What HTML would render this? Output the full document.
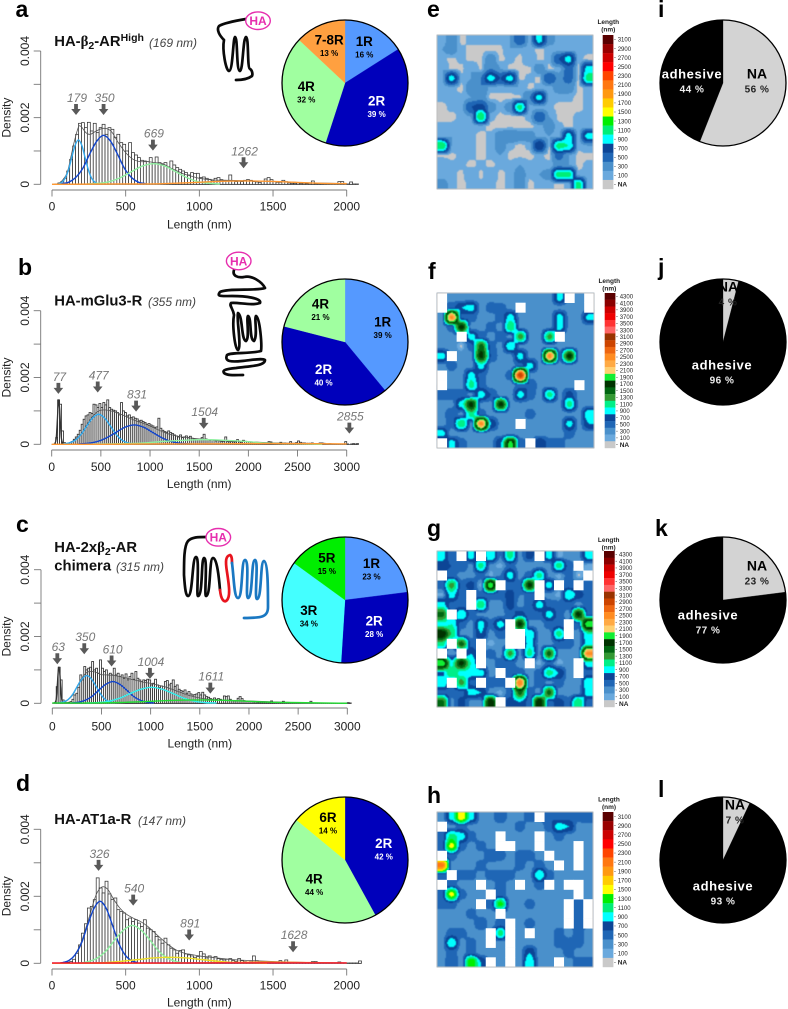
<!DOCTYPE html>
<html lang="en">
<head>
<meta charset="utf-8">
<title>Receptor length distributions</title>
<style>
html,body{margin:0;padding:0;background:#fff;}
svg{display:block;font-family:"Liberation Sans",sans-serif;}
.heat-fill{filter:blur(0.5px);}
.t{font-weight:bold;font-size:14.8px;fill:#111;}
.s{font-style:italic;font-size:12px;fill:#444;}
.l{font-weight:bold;font-size:23px;fill:#000;}
</style>
</head>
<body>
<svg id="fig" width="788" height="1009" viewBox="0 0 788 1009" xmlns="http://www.w3.org/2000/svg">
<rect width="788" height="1009" fill="#fff"/>
<text class="l" x="15.5" y="17">a</text>
<text class="l" x="18" y="275">b</text>
<text class="l" x="16" y="532">c</text>
<text class="l" x="16" y="791">d</text>
<text class="l" x="427" y="17">e</text>
<text class="l" x="428" y="279">f</text>
<text class="l" x="427" y="536">g</text>
<text class="l" x="427" y="803">h</text>
<text class="l" x="658" y="17">i</text>
<text class="l" x="658" y="275">j</text>
<text class="l" x="655" y="536">k</text>
<text class="l" x="658" y="797">l</text>

<text class="t" x="54.3" y="46">HA-<tspan font-family="'Liberation Serif',serif">β</tspan><tspan dy="3" font-size="10.5">2</tspan><tspan dy="-3">-AR</tspan><tspan dy="-5" font-size="10.5">High</tspan></text>
<text class="s" x="149" y="47">(169 nm)</text>
<text class="t" x="54.3" y="305.7">HA-mGlu3-R</text>
<text class="s" x="148" y="306">(355 nm)</text>
<text class="t" x="54.3" y="552">HA-2x<tspan font-family="'Liberation Serif',serif">β</tspan><tspan dy="3" font-size="10.5">2</tspan><tspan dy="-3">-AR</tspan></text>
<text class="t" x="54.3" y="570.7">chimera</text>
<text class="s" x="116" y="571">(315 nm)</text>
<text class="t" x="54.3" y="824">HA-AT1a-R</text>
<text class="s" x="138" y="825">(147 nm)</text>

<g fill="none" stroke="#0a0a0a" stroke-width="2.7" stroke-linecap="round" stroke-linejoin="round">
<path d="M246,19 C234,21 224,23 219,26 C216,30 220,36 224,40 C222,50 226,71 229,71 C233,71 233,37 235,37 C238,37 236,71 240,71 C243,71 243,37 246,37 C249,37 247,68 250,69 C252,70 253,74 252,76 C248,79 242,80 236,80"/>
<path d="M234,270 C232,276 238,278 244,277 C252,275 262,282 265,288 C258,291 226,288 220,292 C216,297 222,296 232,296 C245,296 262,298 260,303 C252,306 238,302 231,303 C229,306 233,308 234,315 C232,325 235,350 238,350 C242,348 236,316 238,313 C243,316 241,340 246,341 C250,338 246,318 248,316 C252,318 249,340 254,341 C258,336 254,318 256,316 C260,318 262,345 261,351 C250,354 232,352 227,355 C224,362 232,362 242,361 C252,360 262,358 265,360 C265,366 250,366 236,368 C226,369 222,370 224,373 C228,376 236,375 243,375"/>
<path d="M206,537 C198,537 192,537 188,541 C184,546 184,560 184,575 C185,590 186,596 188,596 C193,596 192,557 196,557 C200,557 196,596 198,596 C203,596 201,558 204,558 C208,558 204,596 206,596 C211,596 209,558 213,558 C217,558 219,578 220,590"/>
</g>
<path d="M220,590 C221,600 224,602 226,601 C231,598 229,585 227,572 C225,560 226,556 230,555 C232,556 232,560 232,563" fill="none" stroke="#e8141e" stroke-width="2.7" stroke-linecap="round"/>
<path d="M232,563 C234,578 234,598 238,598 C243,598 241,560 245,560 C250,560 245,598 248,598 C253,598 251,560 255,560 C259,560 254,599 257,599 C262,599 260,561 264,561 C268,562 268,590 268,607 C268,617 262,618 244,618" fill="none" stroke="#1a78c2" stroke-width="2.7" stroke-linecap="round"/>

<g><ellipse cx="258" cy="20.7" rx="12.3" ry="8.8" fill="#fff" stroke="#e62eae" stroke-width="1.4"/><text x="258" y="25" text-anchor="middle" font-weight="bold" font-size="12" fill="#e62eae">HA</text></g>
<g><ellipse cx="238.7" cy="261" rx="12.3" ry="8.8" fill="#fff" stroke="#e62eae" stroke-width="1.4"/><text x="238.7" y="265.3" text-anchor="middle" font-weight="bold" font-size="12" fill="#e62eae">HA</text></g>
<g><ellipse cx="218.3" cy="537.3" rx="12.3" ry="8.8" fill="#fff" stroke="#e62eae" stroke-width="1.4"/><text x="218.3" y="541.6" text-anchor="middle" font-weight="bold" font-size="12" fill="#e62eae">HA</text></g>
</svg>

<script>
/* ---------- histogram data: density x 1e-5 per 20 nm bin ---------- */
const binWidthNm = 20;
const binsA = [0,1,4,8,18,40,75,115,150,183,185,170,186,160,183,155,170,180,150,170,165,140,150,125,120,100,125,95,88,80,72,70,68,80,62,82,65,60,65,52,70,58,50,45,40,35,28,35,32,33,20,22,18,15,12,18,20,14,12,10,28,10,8,9,8,12,14,12,8,7,6,10,16,20,14,8,6,6,12,8,4,3,3,4,2,3,2,3,10,2,2,1,1,1,1,1,1,8,8,1,1,7,1,1];
const binsB = [0,1,20,133,120,40,5,2,3,5,8,15,22,30,42,60,75,85,88,95,92,120,118,110,122,110,125,118,133,110,105,102,100,95,88,125,100,95,85,88,80,82,78,76,70,72,68,65,60,62,58,55,50,52,78,48,42,38,36,40,35,32,28,25,22,28,20,22,25,20,24,18,16,14,15,16,20,30,16,14,12,13,12,10,11,10,8,9,22,8,7,8,7,7,14,7,6,12,9,8,7,6,6,5,4,5,5,4,4,4,8,7,3,3,3,2,6,2,4,2,2,8,2,3,5,10,6,4,4,3,3,3,4,2,1,1,4,4,3,1,1,2,1,1,1,1,1,1,1,8,1,0,1,2,1,2];
const binsC = [0,2,50,108,70,10,2,2,3,5,12,25,30,48,85,70,110,100,105,108,125,100,105,90,130,105,95,100,85,90,85,105,85,90,80,85,75,88,70,80,90,72,95,75,70,65,70,68,72,70,55,60,72,55,48,52,42,65,68,55,60,70,50,55,42,38,36,40,30,35,28,25,26,28,32,25,33,25,20,18,14,12,16,12,14,12,10,22,20,22,12,8,7,7,15,20,14,8,7,6,5,5,4,4,3,3,3,3,3,3,2,7,2,2,2,2,2,6,2,2,2,2,2,2,1,1,1,1,1,1,1,6,1,1,1,1,1,1,1,1,1,1,1,1,1,1,1,1,1,1,2,1];
const binsD = [0,0,1,2,3,3,5,12,30,55,90,118,165,170,190,255,225,210,245,207,190,195,160,155,150,130,135,125,130,120,110,130,105,100,95,80,70,60,75,55,45,40,30,38,40,28,25,22,18,20,35,28,16,22,18,20,14,12,10,12,14,8,6,14,8,5,4,5,22,8,4,2,2,2,2,2,2,8,4,10,2,2,2,2,2,2,2,2,5,5,1,1,1,1,1,1,1,4,1,1,1,1,1,1,7];

/* ---------- fitted curves: x in nm, y in density x 1e-5 ---------- */
const a179X = [44,67,89,112,134,157,179,202,224,247,269,292,314];
const a179Y = [1,6,18,43,81,117,133,117,81,43,18,6,1];
const a350X = [65,112,160,208,255,303,350,398,445,493,540,588,635];
const a350Y = [2,6,20,47,90,129,147,129,90,47,20,6,2];
const a669X = [240,315,390,465,540,615,690,765,840,915,990,1065,1140];
const a669Y = [1,3,8,20,38,55,62,55,38,20,8,3,1];
const a1262X = [0,475,650,825,1000,1150,1300,1475,1650,1825,2000];
const a1262Y = [0,1,1,3,6,9,10,9,6,3,2];
const aTotalX = [0,50,100,130,150,180,200,230,260,300,350,400,450,500,550,600,650,700,750,800,850,900,950,1000,1100,1200,1300,1400,1500,1600,1700,1800,1900,2000];
const aTotalY = [0,4,32,86,126,172,172,155,150,160,168,160,125,95,75,68,68,65,62,50,40,30,24,18,13,12,11,10,9,7,5,4,3,2];

const b77X = [30,45,55,65,72,80,90,100,115];
const b77Y = [1,15,60,115,133,110,55,15,1];
const b477X = [117,177,237,297,357,417,477,537,597,657,717,777,837];
const b477Y = [1,4,12,29,55,79,90,79,55,29,12,4,1];
const b831X = [270,365,460,555,650,745,840,935,1030,1125,1220,1315,1410];
const b831Y = [1,3,8,19,35,51,58,51,35,19,8,3,1];
const b1504X = [350,550,750,950,1150,1350,1550,1750,1950,2150,2350,2550,2750];
const b1504Y = [0,1,2,4,9,12,14,12,9,4,2,1,0];
const b2855X = [0,500,1000,1500,2000,2500,3000];
const b2855Y = [0,0,1,1,2,2,1];
const bTotalX = [0,30,45,55,65,72,80,90,100,120,180,240,300,360,420,480,540,600,660,720,780,840,900,960,1020,1080,1140,1200,1300,1400,1500,1600,1800,2000,2200,2500,3000];
const bTotalY = [0,1,15,60,115,133,110,55,17,2,5,15,32,60,85,100,103,100,95,88,80,72,66,60,52,44,36,30,23,19,16,14,10,8,5,3,1];

const c63X = [25,40,50,60,68,76,86,96,110];
const c63Y = [1,12,50,95,108,90,45,12,1];
const c350X = [65,112,160,208,255,303,350,398,445,493,540,588,635];
const c350Y = [1,4,11,27,51,73,83,73,51,27,11,4,1];
const c610X = [195,265,335,405,475,545,615,685,755,825,895,965,1035];
const c610Y = [1,3,9,21,40,57,65,57,40,21,9,3,1];
const c1004X = [350,460,570,680,790,900,1010,1120,1230,1340,1450,1560,1670];
const c1004Y = [1,2,6,15,29,42,48,42,29,15,6,2,1];
const c1611X = [0,500,750,1000,1250,1500,1750,2000,2250,2500,3000];
const c1611Y = [1,1,3,6,9,10,9,6,3,2,0];
const cTotalX = [0,25,40,50,60,68,76,86,96,110,160,210,260,300,350,400,450,500,550,600,650,700,750,800,850,900,950,1000,1050,1100,1150,1200,1300,1400,1500,1600,1700,1800,2000,2200,2500,3000];
const cTotalY = [0,1,12,50,95,108,90,45,13,2,10,25,55,75,92,96,92,86,85,84,82,79,76,72,69,65,62,60,56,53,49,44,33,23,16,12,10,9,7,5,2,0];

const d326X = [71,114,156,199,241,284,326,369,411,454,496,539,581];
const d326Y = [2,8,25,59,113,163,185,163,113,59,25,8,2];
const d540X = [185,245,305,365,425,485,545,605,665,725,785,845,905];
const d540Y = [1,5,15,36,69,99,113,99,69,36,15,5,1];
const d891X = [140,250,360,470,580,690,800,910,1020,1130,1240,1350,1460];
const d891Y = [0,1,2,6,11,16,18,16,11,6,2,1,0];
const d1628X = [0,600,900,1150,1450,1750,2000];
const d1628Y = [0,0,1,2,4,2,1];
const dRedX = [0,1000,2000];
const dRedY = [1,1,1];
const dTotalX = [0,50,100,150,200,250,300,340,380,420,460,500,550,600,650,700,750,800,850,900,950,1000,1100,1200,1300,1400,1600,1800,2000];
const dTotalY = [0,1,6,22,65,135,205,228,220,190,165,148,135,125,110,90,70,52,38,30,26,22,17,12,9,7,4,2,1];

/* ---------- peak annotations: printed label, arrow nm, arrow tip density x 1e-5 ---------- */
const peakLabelsA = [179,350,669,1262];
const peakNmA = [163,350,685,1300];
const peakTipA = [208,208,101,48];
const peakLabelsB = [77,477,831,1504,2855];
const peakNmB = [68,468,858,1546,3027];
const peakTipB = [151,155,98,46,32];
const peakLabelsC = [63,350,610,1004,1611];
const peakNmC = [51,325,603,993,1607];
const peakTipC = [117,147,110,73,29];
const peakLabelsD = [326,540,891,1628];
const peakNmD = [316,551,931,1636];
const peakTipD = [276,172,68,33];

/* ---------- axes ---------- */
const xTicks2000 = [0,500,1000,1500,2000];
const xTicks3000 = [0,500,1000,1500,2000,2500,3000];
const yTicksMinor = [0,0.001,0.002,0.003,0.004];
const yTickLabels = ['0','0.002','0.004'];

/* ---------- pies ---------- */
const pieALabels = ['1R','2R','4R','7-8R'];
const pieAValues = [16,39,32,13];
const pieBLabels = ['1R','2R','4R'];
const pieBValues = [39,40,21];
const pieCLabels = ['1R','2R','3R','5R'];
const pieCValues = [23,28,34,15];
const pieDLabels = ['2R','4R','6R'];
const pieDValues = [42,44,14];
const adhesionLabels = ['NA','adhesive'];
const adhesionI = [56,44];
const adhesionJ = [4,96];
const adhesionK = [23,77];
const adhesionL = [7,93];

/* ---------- force maps: length in units of 100 nm, 0 = NA, W = empty pixel ---------- */
const W = -1;
const heatE = [
[1,3,0,1,1,1,1,2,6,1,9,3,1,1,1,1],
[2,3,1,0,0,0,0,2,1,1,0,1,1,1,1,1],
[1,0,1,0,0,3,0,1,0,2,0,1,6,9,1,0],
[2,0,0,2,0,4,2,0,0,0,3,0,1,5,0,9],
[1,9,1,2,4,9,6,9,0,1,0,6,3,5,0,11],
[1,1,0,3,4,1,1,1,2,0,1,1,3,3,0,1],
[1,1,1,2,3,0,0,0,0,4,9,1,1,1,0,1],
[0,1,1,6,7,3,1,3,11,1,1,1,0,0,0,1],
[0,0,1,2,12,1,0,0,0,1,6,2,0,0,1,1],
[1,1,2,1,1,0,0,0,0,0,1,3,1,0,1,1],
[1,2,2,1,0,1,3,4,3,3,1,2,1,9,1,9],
[12,2,1,1,0,1,3,1,0,1,8,0,11,10,1,2],
[0,0,1,1,0,1,2,0,0,0,1,0,5,2,0,0],
[2,1,1,0,1,0,1,1,2,1,1,1,3,2,0,1],
[1,1,0,2,0,2,0,1,3,1,2,3,11,11,1,1],
[3,1,0,1,1,1,0,1,3,0,1,1,0,1,11,1]];
const heatF = [
[W,3,2,2,3,3,2,3,2,3,3,3,9,W,3,W],
[W,5,8,9,3,5,5,3,W,3,3,3,3,3,3,W],
[3,25,5,5,3,3,5,9,3,3,3,3,9,3,3,9],
[3,5,17,3,3,5,3,12,3,3,3,3,9,3,3,3],
[3,3,W,9,5,3,5,3,13,3,3,13,W,3,3,3],
[3,3,0,5,15,5,3,10,3,3,3,3,3,3,3,3],
[9,W,3,3,17,6,3,3,9,3,3,25,5,17,3,3],
[3,5,3,3,9,3,3,3,5,9,3,3,3,3,3,3],
[W,3,3,9,5,3,3,5,30,3,3,3,3,3,3,3],
[W,3,3,11,5,3,3,3,5,6,3,3,3,3,W,3],
[5,5,5,3,9,6,3,3,9,5,3,11,3,7,3,3],
[3,3,9,17,3,3,17,3,3,3,3,3,3,11,3,3],
[3,6,3,11,5,3,3,3,3,5,3,3,3,3,3,10],
[3,5,12,3,25,8,3,3,W,3,3,3,3,9,3,8],
[9,2,3,3,3,3,3,3,3,3,3,3,3,5,3,3],
[W,9,5,3,3,3,8,19,5,W,8,5,5,3,3,3]];
const heatG = [
[9,4,W,9,W,10,4,11,3,7,W,9,1,3,3,9],
[7,6,6,3,11,3,1,5,3,2,3,2,11,5,W,1],
[W,5,3,3,5,1,4,9,3,5,11,3,1,5,0,W],
[5,13,5,7,1,20,W,5,5,17,W,9,W,5,W,5],
[1,9,5,W,5,5,5,7,4,4,W,3,1,10,7,5],
[9,5,5,W,12,3,3,7,3,5,9,5,5,5,3,5],
[15,W,10,5,3,3,3,5,7,5,5,9,5,3,17,5],
[9,10,5,3,9,5,9,W,17,3,3,5,5,W,5,20],
[18,12,3,3,8,3,5,W,W,10,3,3,11,W,3,10],
[11,W,15,5,W,1,3,W,W,9,3,3,5,5,3,9],
[W,3,W,8,W,5,3,13,3,11,3,15,3,3,3,25],
[20,9,17,10,W,3,5,5,3,W,1,5,1,3,W,9],
[7,12,9,9,9,3,W,5,5,3,5,11,8,3,W,5],
[10,W,13,5,W,5,5,W,26,3,5,3,5,3,2,10],
[5,5,5,9,8,3,1,5,15,5,3,15,3,3,3,9],
[15,3,7,3,3,18,W,7,8,5,18,5,7,5,12,5]];
const heatH = [
[2,9,16,9,3,3,6,3,3,5,W,6,5,5,5,6],
[W,3,5,3,3,3,3,3,5,3,3,5,9,8,3,3],
[5,11,9,5,3,3,W,3,3,3,W,3,5,3,3,3],
[5,15,5,3,5,3,W,W,3,3,W,3,3,3,W,3],
[W,5,3,3,3,6,5,3,5,5,3,W,3,3,W,3],
[21,3,3,3,5,3,3,3,5,3,5,3,W,3,W,3],
[5,W,5,5,3,5,5,5,3,3,10,5,3,3,3,3],
[W,5,3,3,W,3,5,3,W,3,5,W,3,W,W,3],
[5,15,5,3,3,W,5,3,3,3,3,3,3,3,W,3],
[5,5,3,3,W,5,13,3,3,5,3,3,3,W,5,W],
[3,3,3,5,3,3,W,3,3,3,3,3,3,W,5,W],
[3,3,3,3,6,3,5,W,3,5,3,3,3,W,5,W],
[3,5,5,3,3,W,11,W,3,W,3,3,5,3,5,3],
[3,10,3,5,3,W,3,W,3,3,3,3,5,5,5,3],
[3,5,3,5,3,3,3,W,3,8,3,3,3,5,3,3],
[3,6,3,14,8,W,3,W,3,10,3,3,W,3,5,5]];
const scaleLabelsLow = [3100,2900,2700,2500,2300,2100,1900,1700,1500,1300,1100,900,700,500,300,100,'NA'];
const scaleLabelsHigh = [4300,4100,3900,3700,3500,3300,3100,2900,2700,2500,2300,2100,1900,1700,1500,1300,1100,900,700,500,300,100,'NA'];

/* ---------- colour styles ---------- */
const NA_COLOR = '#c9c9c9';
const palLow = ['#6aa9dd','#4a90cb','#1f66b5','#0c4596','#00ffff','#00ee77','#00ee00','#ffff00','#ffcc00','#ff9911','#ff7711','#ff4400','#ff0000','#cc0000','#990000','#5a0000'];
const palHigh = ['#6aa9dd','#4a90cb','#1f66b5','#0c4596','#00ffff','#00ee88','#339933','#006611','#003300','#11ee33','#ffd070','#ffaa44','#ff8c22','#ee6611','#cc4400','#993300','#ff6666','#ff3333','#ee0000','#cc0000','#8b0000','#5a0000'];
const sliceColors = {'1R':'#5599ff','2R':'#0000bb','3R':'#44ffff','4R':'#a0ffa0','5R':'#00ee00','6R':'#ffff00','7-8R':'#ffa040','NA':'#d3d3d3','adhesive':'#000000'};

/* ---------- helpers ---------- */
const NS = 'http://www.w3.org/2000/svg';
const fig = document.getElementById('fig');
function mk(tag, attrs, parent){
  const el = document.createElementNS(NS, tag);
  for (const k in attrs) el.setAttribute(k, attrs[k]);
  (parent || fig).appendChild(el);
  return el;
}
function addText(parent, name, str, x, y, attrs){
  const el = mk('text', Object.assign({x:x, y:y}, attrs), parent);
  el.textContent = str;
  
  
  return el;
}
function smoothPath(pts){
  let d = 'M' + pts[0][0].toFixed(2) + ',' + pts[0][1].toFixed(2);
  for (let i = 0; i < pts.length - 1; i++){
    const p0 = pts[Math.max(i-1,0)], p1 = pts[i], p2 = pts[i+1], p3 = pts[Math.min(i+2,pts.length-1)];
    const c1x = p1[0] + (p2[0]-p0[0])/6, c1y = p1[1] + (p2[1]-p0[1])/6;
    const c2x = p2[0] - (p3[0]-p1[0])/6, c2y = p2[1] - (p3[1]-p1[1])/6;
    d += 'C' + c1x.toFixed(2) + ',' + c1y.toFixed(2) + ' ' + c2x.toFixed(2) + ',' + c2y.toFixed(2) + ' ' + p2[0].toFixed(2) + ',' + p2[1].toFixed(2);
  }
  return d;
}

/* ---------- histogram panel ---------- */
function drawPanel(id, g, bins, curves, peakLabels, peakNm, peakTip, xTicks){
  const group = mk('g', {});
  
  
  const X = nm => g.x0 + nm * (g.xEnd - g.x0) / g.xMax;
  const Y = v => g.y0 - v * (g.y0 - g.y4) / 400;
  const barW = X(binWidthNm) - X(0);

  bins.forEach((v, i) => {
    if (v <= 0) return;
    const r = mk('rect', {x:X(i*binWidthNm), y:Y(v), width:barW, height:Y(0)-Y(v), fill:'#fff', stroke:'#333', 'stroke-width':g.barStroke}, group);
    
    
  });
  const base = mk('line', {x1:X(0), x2:X(bins.length*binWidthNm), y1:Y(0), y2:Y(0), stroke:'#222', 'stroke-width':0.7}, group);
  
  

  curves.forEach(c => {
    const pts = c.xs.map((nm, i) => [X(nm), Y(c.ys[i])]);
    const p = mk('path', {d:smoothPath(pts), fill:'none', stroke:c.color, 'stroke-width':c.w}, group);
    
    
  });

  const yAx = mk('line', {x1:g.yAxisX, x2:g.yAxisX, y1:Y(0), y2:Y(400), stroke:'#777', 'stroke-width':0.9}, group);
  
  
  yTicksMinor.forEach(t => {
    const ty = Y(t * 100000);
    const l = mk('line', {x1:g.yAxisX-7, x2:g.yAxisX, y1:ty, y2:ty, stroke:'#777', 'stroke-width':0.9}, group);
    
    
  });
  yTickLabels.forEach(s => {
    const ty = Y(parseFloat(s) * 100000);
    addText(group, 'y-tick-label', s, 0, 0, {transform:'translate(' + 29 + ',' + ty + ') rotate(-90)', 'text-anchor':'middle', 'font-size':12, fill:'#222'});
  });
  addText(group, 'y-axis-title', 'Density', 0, 0, {transform:'translate(' + 10.5 + ',' + Y(200) + ') rotate(-90)', 'text-anchor':'middle', 'font-size':12, fill:'#222'});

  const xAx = mk('line', {x1:X(0), x2:X(g.xMax), y1:g.axisY, y2:g.axisY, stroke:'#777', 'stroke-width':0.9}, group);
  
  
  xTicks.forEach(t => {
    const l = mk('line', {x1:X(t), x2:X(t), y1:g.axisY, y2:g.axisY+6.5, stroke:'#777', 'stroke-width':0.9}, group);
    
    
    addText(group, 'x-tick-label', String(t), X(t), g.labelY, {'text-anchor':'middle', 'font-size':12, fill:'#222'});
  });
  addText(group, 'x-axis-title', 'Length (nm)', X(g.xMax*0.5), g.titleY, {'text-anchor':'middle', 'font-size':12, fill:'#222'});

  peakLabels.forEach((lab, i) => {
    const tx = X(peakNm[i]), ty = Y(peakTip[i]);
    const a = mk('polygon', {points:[[tx,ty],[tx-4.8,ty-6],[tx-1.9,ty-6],[tx-1.9,ty-11],[tx+1.9,ty-11],[tx+1.9,ty-6],[tx+4.8,ty-6]].map(p=>p.join(',')).join(' '), fill:'#595959'}, group);
    
    
    addText(group, 'peak-label', String(lab), tx + 1, ty - 13, {'text-anchor':'middle', 'font-size':12, 'font-style':'italic', fill:'#777'});
  });
}

/* ---------- pies ---------- */
function drawPie(name, cx, cy, r, labels, values, anchors){
  const group = mk('g', {});
  
  
  const total = values.reduce((s, v) => s + v, 0);
  let cum = 0;
  labels.forEach((lab, i) => {
    const a0 = cum / total * 2 * Math.PI;
    cum += values[i];
    const a1 = cum / total * 2 * Math.PI;
    const large = (a1 - a0) > Math.PI ? 1 : 0;
    const d = 'M' + cx + ',' + cy + 'L' + (cx + r*Math.sin(a0)) + ',' + (cy - r*Math.cos(a0)) +
      'A' + r + ',' + r + ' 0 ' + large + ' 1 ' + (cx + r*Math.sin(a1)) + ',' + (cy - r*Math.cos(a1)) + 'Z';
    const s = mk('path', {d:d, fill:sliceColors[lab], stroke:sliceColors[lab], 'stroke-width':0.3}, group);
    
    
  });
  const rim = mk('circle', {cx:cx, cy:cy, r:r, fill:'none', stroke:'#000', 'stroke-width':1.3}, group);
  
  
  cum = 0;
  labels.forEach((lab, i) => {
    const mid = (cum + values[i]/2) / total * 2 * Math.PI;
    cum += values[i];
    const dark = (lab === '2R' || lab === 'adhesive');
    const fill = dark ? '#fff' : '#000';
    if (anchors){
      const px = anchors[i][0], py = anchors[i][1];
      addText(group, 'pie-label', lab, px, py - 2.5, {'text-anchor':'middle', 'font-size':lab==='NA'?14:13, 'font-weight':'bold', 'letter-spacing':lab==='NA'?0:0.6, fill:fill});
      addText(group, 'pie-percent', values[i] + ' %', px, py + 11.5, {'text-anchor':'middle', 'font-size':10, 'font-weight':'bold', 'letter-spacing':0.5, fill:dark?'#eee':'#222'});
    } else {
      const px = cx + 40*Math.sin(mid), py = cy - 40*Math.cos(mid);
      addText(group, 'pie-label', lab, px, py - 2, {'text-anchor':'middle', 'font-size':13.4, 'font-weight':'bold', fill:fill});
      addText(group, 'pie-percent', values[i] + ' %', px, py + 9.5, {'text-anchor':'middle', 'font-size':8, 'font-weight':'bold', fill:fill});
    }
  });
}

/* ---------- force map ---------- */
function drawHeat(name, matrix, x0, y0, w, h, pal, scaleLabels, barX, titleX, titleY1, titleY2){
  const group = mk('g', {});
  
  
  const n = matrix.length, cw = w/n, ch = h/n;
  /* squared values; empty cells take the mean of their valid neighbours */
  const sq = matrix.map((row, r) => row.map((val, c) => {
    if (val >= 0) return val*val;
    let s = 0, k = 0;
    for (let a = Math.max(0,r-1); a <= Math.min(n-1,r+1); a++) for (let b = Math.max(0,c-1); b <= Math.min(n-1,c+1); b++){
      const m = matrix[a][b];
      if (m >= 0 && m < 8){ s += m; k++; }
    }
    const mean = k ? s/k : 3;
    return mean*mean;
  }));
  const ease = t => t*t*(3-2*t);
  const fillGroup = mk('g', {'class':'heat-fill'}, group);
  
  
  const bg = mk('rect', {x:x0, y:y0, width:w, height:h, fill:NA_COLOR}, fillGroup);
  
  
  const spans = pal.map(() => []);
  for (let py = 0; py < h; py++){
    const v = Math.max(0, Math.min(n-1.001, (py + 0.5)/ch - 0.5));
    const r0 = Math.floor(v), tv = ease(v - r0);
    let run = -2, start = 0;
    for (let px = 0; px <= w; px++){
      let lev = -2;
      if (px < w){
        const u = Math.max(0, Math.min(n-1.001, (px + 0.5)/cw - 0.5));
        const c0 = Math.floor(u), tu = ease(u - c0);
        const top = sq[r0][c0]*(1-tu) + sq[r0][c0+1]*tu;
        const bot = sq[r0+1][c0]*(1-tu) + sq[r0+1][c0+1]*tu;
        const val = Math.sqrt(top*(1-tv) + bot*tv);
        lev = val < 0.7 ? -1 : Math.min(Math.floor(val/2), pal.length-1);
      }
      if (lev !== run){
        if (run >= 0) spans[run].push('M' + (x0+start) + ' ' + (y0+py) + 'h' + (px-start) + 'v1h' + (start-px) + 'z');
        run = lev; start = px;
      }
    }
  }
  spans.forEach((s, i) => {
    if (!s.length) return;
    const p = mk('path', {d:s.join(''), fill:pal[i], 'shape-rendering':'crispEdges'}, fillGroup);
    
    
  });
  matrix.forEach((row, r) => row.forEach((val, c) => {
    if (val >= 0) return;
    const cell = mk('rect', {x:x0+c*cw, y:y0+r*ch, width:cw+0.3, height:ch+0.3, fill:'#fff'}, group);
    
    
  }));
  const border = mk('rect', {x:x0, y:y0, width:w, height:h, fill:'none', stroke:'#b5b5b5', 'stroke-width':0.8}, group);
  
  

  const segH = h / scaleLabels.length;
  scaleLabels.forEach((lab, i) => {
    const color = lab === 'NA' ? NA_COLOR : pal[(lab-100)/200];
    const seg = mk('rect', {x:barX, y:y0+i*segH, width:10.7, height:segH+0.2, fill:color}, group);
    
    
    const tick = mk('line', {x1:barX+11.5, x2:barX+13, y1:y0+(i+0.5)*segH, y2:y0+(i+0.5)*segH, stroke:'#333', 'stroke-width':0.5}, group);
    
    
    addText(group, 'scale-label', String(lab), barX+15, y0+(i+0.5)*segH+2.2, {'font-size':lab==='NA'?6.5:6, 'font-weight':lab==='NA'?'bold':'normal', fill:'#222'});
  });
  addText(group, 'scale-title', 'Length', titleX, titleY1, {'text-anchor':'middle', 'font-size':6.5, 'font-weight':'bold', fill:'#222'});
  addText(group, 'scale-unit', '(nm)', titleX, titleY2, {'text-anchor':'middle', 'font-size':6.5, 'font-weight':'bold', fill:'#222'});
}

/* ---------- render ---------- */
const lightBlue = '#33aaee', navy = '#1144cc', mint = '#8ff0a0', thinGrey = '#555';
drawPanel('a', {x0:52, xEnd:346.7, xMax:2000, y0:184.3, y4:51, yAxisX:40.7, axisY:190, labelY:210.5, titleY:228.5, barStroke:0.75}, binsA, [
  {name:'total', xs:aTotalX, ys:aTotalY, color:thinGrey, w:0.8},
  {name:'179', xs:a179X, ys:a179Y, color:lightBlue, w:1.4},
  {name:'350', xs:a350X, ys:a350Y, color:navy, w:1.4},
  {name:'669', xs:a669X, ys:a669Y, color:mint, w:1.4},
  {name:'1262', xs:a1262X, ys:a1262Y, color:'#ff9933', w:1.4}
], peakLabelsA, peakNmA, peakTipA, xTicks2000);
drawPanel('b', {x0:51.7, xEnd:346.7, xMax:3000, y0:444.3, y4:310.7, yAxisX:40.7, axisY:450, labelY:471, titleY:488, barStroke:0.85}, binsB, [
  {name:'total', xs:bTotalX, ys:bTotalY, color:thinGrey, w:0.8},
  {name:'77', xs:b77X, ys:b77Y, color:'#333', w:1.3},
  {name:'477', xs:b477X, ys:b477Y, color:lightBlue, w:1.4},
  {name:'831', xs:b831X, ys:b831Y, color:navy, w:1.4},
  {name:'1504', xs:b1504X, ys:b1504Y, color:mint, w:1.4},
  {name:'2855', xs:b2855X, ys:b2855Y, color:'#ff9933', w:1.4}
], peakLabelsB, peakNmB, peakTipB, xTicks3000);
drawPanel('c', {x0:52.3, xEnd:347.3, xMax:3000, y0:703.3, y4:569.7, yAxisX:41, axisY:708, labelY:730.5, titleY:747.5, barStroke:0.85}, binsC, [
  {name:'total', xs:cTotalX, ys:cTotalY, color:thinGrey, w:0.8},
  {name:'63', xs:c63X, ys:c63Y, color:'#333', w:1.3},
  {name:'350', xs:c350X, ys:c350Y, color:lightBlue, w:1.4},
  {name:'610', xs:c610X, ys:c610Y, color:navy, w:1.4},
  {name:'1004', xs:c1004X, ys:c1004Y, color:'#33eeee', w:1.4},
  {name:'1611', xs:c1611X, ys:c1611Y, color:'#22dd33', w:1.4}
], peakLabelsC, peakNmC, peakTipC, xTicks3000);
drawPanel('d', {x0:52, xEnd:346.7, xMax:2000, y0:963.3, y4:829.3, yAxisX:40.7, axisY:969, labelY:989.5, titleY:1006.5, barStroke:0.75}, binsD, [
  {name:'total', xs:dTotalX, ys:dTotalY, color:thinGrey, w:0.8},
  {name:'326', xs:d326X, ys:d326Y, color:navy, w:1.4},
  {name:'540', xs:d540X, ys:d540Y, color:mint, w:1.4},
  {name:'891', xs:d891X, ys:d891Y, color:'#eedd22', w:1.4},
  {name:'1628', xs:d1628X, ys:d1628Y, color:'#ff9933', w:1.4},
  {name:'baseline-red', xs:dRedX, ys:dRedY, color:'#ee1133', w:1.4}
], peakLabelsD, peakNmD, peakTipD, xTicks2000);

drawPie('pie-a', 345, 83, 63, pieALabels, pieAValues);
drawPie('pie-b', 345, 342, 63, pieBLabels, pieBValues);
drawPie('pie-c', 345, 600, 63, pieCLabels, pieCValues);
drawPie('pie-d', 345, 860, 63, pieDLabels, pieDValues);

drawHeat('force-map-e', heatE, 437, 35, 156, 154, palLow, scaleLabelsLow, 602.7, 608.3, 24, 31.5);
drawHeat('force-map-f', heatF, 437, 293, 157, 155, palHigh, scaleLabelsHigh, 604.7, 609.3, 283, 290.5);
drawHeat('force-map-g', heatG, 437, 551, 156, 156, palHigh, scaleLabelsHigh, 604, 608.7, 542, 549.3);
drawHeat('force-map-h', heatH, 437, 812, 156, 155, palLow, scaleLabelsLow, 602.7, 609, 801.5, 809.2);

drawPie('adhesion-pie-i', 723, 83, 63, adhesionLabels, adhesionI, [[757,81],[692,81]]);
drawPie('adhesion-pie-j', 723, 342, 63, adhesionLabels, adhesionJ, [[728,294],[722,372]]);
drawPie('adhesion-pie-k', 723, 600, 63, adhesionLabels, adhesionK, [[757,573],[708,622]]);
drawPie('adhesion-pie-l', 723, 860, 63, adhesionLabels, adhesionL, [[735,812],[723,893]]);
</script>
</body>
</html>
